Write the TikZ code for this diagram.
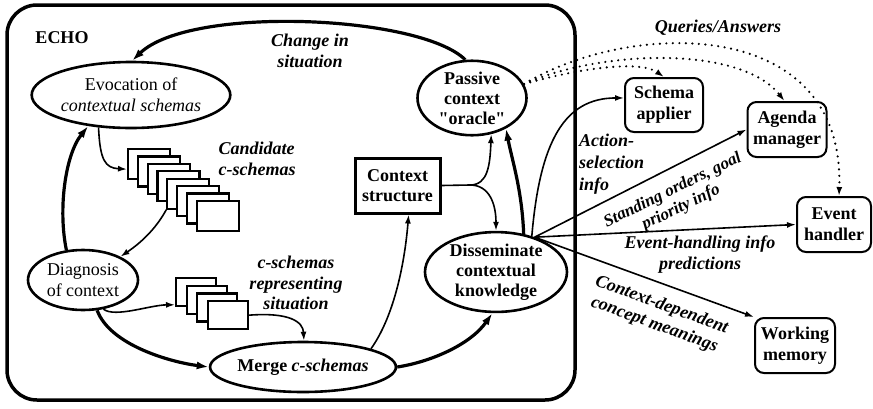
\documentclass[tikz,border=0pt]{standalone}
\usepackage{fontspec}
\setmainfont{Liberation Serif}
\usetikzlibrary{arrows.meta,shapes.geometric,calc}
\begin{document}
\begin{tikzpicture}[x=1pt,y=-1pt,
  every node/.style={font=\fontsize{18}{20.5}\selectfont},
  ell/.style={draw,ellipse,line width=2.6pt,inner sep=0pt,align=center},
  bld/.style={font=\fontsize{18}{20}\selectfont\bfseries},
  rbox/.style={draw,rounded corners=9pt,line width=2pt,inner sep=0pt,align=center,font=\fontsize{18}{21}\selectfont\bfseries},
  sheet/.style={draw,fill=white,line width=2.2pt,minimum width=42pt,minimum height=30pt,inner sep=0pt,anchor=north west},
  rsheet/.style={draw,fill=white,line width=2.2pt,minimum width=40pt,minimum height=28pt,inner sep=0pt,anchor=north west},
  lab/.style={font=\fontsize{18}{21}\selectfont\bfseries\itshape,align=center},
  thk/.style={line width=3.2pt,-{Latex[length=12pt,width=8pt]}},
  thn/.style={line width=1.6pt,-{Latex[length=9pt,width=6pt]}},
  dots/.style={line width=2.4pt,line cap=round,dash pattern=on 0pt off 6.5pt,-{Latex[length=9pt,width=6pt]}}
]
\useasboundingbox (0,0) rectangle (873,408);
% ECHO frame
\node[draw,line width=3.5pt,rounded corners=30pt,minimum width=568pt,minimum height=395pt,inner sep=0pt] (frame) at (291,202.5) {};
\node[bld] (echo) at (62,38) {ECHO};

% main nodes
\node[ell,minimum width=197pt,minimum height=66pt] (evo) at (131,95) {Evocation of\\\textit{contextual schemas}};
\node[ell,bld,minimum width=109pt,minimum height=73pt] (pas) at (472,98) {Passive\\context\\\textquotedbl oracle\textquotedbl};
\node[ell,minimum width=110pt,minimum height=60pt] (diag) at (83,280) {Diagnosis\\of context};
\node[ell,bld,minimum width=170pt,minimum height=50pt] (merge) at (303,367) {Merge \textit{c-schemas}};
\node[ell,bld,minimum width=142pt,minimum height=77pt] (diss) at (496,272) {Disseminate\\contextual\\knowledge};
\node[draw,line width=3pt,minimum width=85pt,minimum height=55pt,inner sep=0pt,align=center,bld] (cs) at (397.5,185.5) {Context\\structure};

% external boxes
\node[rbox,minimum width=78pt,minimum height=54pt] (sch) at (664,105) {Schema\\applier};
\node[rbox,minimum width=79pt,minimum height=55pt] (ag) at (787,129.5) {Agenda\\manager};
\node[rbox,minimum width=74pt,minimum height=55pt] (ev) at (834,224.5) {Event\\handler};
\node[rbox,minimum width=80pt,minimum height=55pt] (wm) at (795,345.5) {Working\\memory};

% stacks
\foreach \i in {1,...,8} {
  \node[sheet] (cand\i) at ({127+(\i-1)*9.8},{148+(\i-1)*7.4}) {};
}
\foreach \i in {1,...,4} {
  \node[rsheet] (rep\i) at ({175+(\i-1)*10.5},{277+(\i-1)*7.7}) {};
}

% labels
\node[lab] (chg) at (310,51) {Change in\\situation};
\node[lab,align=left,anchor=west] (candl) at (215,159) {Candidate\\c-schemas};
\node[lab,font=\fontsize{18}{20.5}\selectfont\bfseries\itshape] (repl) at (296,283) {c-schemas\\representing\\situation};
\node[lab,align=left,anchor=north west,inner sep=0pt,font=\fontsize{18}{22}\selectfont\bfseries\itshape] (act) at (579,134) {Action-\\selection\\info};
\node[lab] (qa) at (718,28) {Queries/Answers};
\node[lab,rotate=26,inner sep=0pt,font=\fontsize{17}{19}\selectfont\bfseries\itshape] (so) at (677,199) {Standing orders, goal\\priority info};
\node[lab] (eh) at (700,255) {Event-handling info\\predictions};
\node[lab,rotate=-20,inner sep=0pt] (cd) at (658,315) {Context-dependent\\concept meanings};

% coordinates
\coordinate (fan) at (diss.42);
\coordinate (br) at (470,185);

% arrows inside ECHO
\draw[thk] (pas.100) .. controls (420,15) and (190,5) .. (evo.88);
\draw[thk] (diag.119) .. controls (58,210) and (65,155) .. (evo.216);
\draw[thn] (evo.225) .. controls (100,160) and (105,168) .. (cand1.193);
\draw[thn] (cand5.south west) .. controls (158,225) and (145,240) .. (diag.32);
\draw[thn] (diag.305) .. controls (115,318) and (150,305) .. (rep1.211);
\draw[thk] (diag.295) .. controls (110,345) and (170,362) .. (merge.west);
\draw[thn] (rep4.east) .. controls (290,312) and (303,322) .. (merge.88);
\draw[thn] (merge.15) .. controls (395,315) and (405,260) .. (cs.291);
\draw[thk] (merge.east) .. controls (430,362) and (470,345) .. (diss.265);
\draw[line width=1.6pt] (cs.east) -- (br);
\draw[thn] (br) .. controls (488,185) and (490,165) .. (pas.298);
\draw[thn] (br) .. controls (490,185) and (496,205) .. (diss.90);
\draw[thk] (diss.54) .. controls (522,190) and (512,160) .. (pas.318);

% arrows out of ECHO
\draw[thn] (diss.45) .. controls (540,140) and (565,98) .. (sch.170);
\draw[thn] (fan) -- (ag.west);
\draw[thn] (fan) -- (ev.west);
\draw[thn] (fan) -- (wm.north west);

% dotted queries/answers
\draw[dots] (pas.15) .. controls (580,68) and (640,60) .. (sch.north);
\draw[dots] (pas.15) .. controls (600,50) and (740,45) .. (ag.95);
\draw[dots] (pas.15) .. controls (630,20) and (845,15) .. (ev.80);
\end{tikzpicture}
\end{document}
